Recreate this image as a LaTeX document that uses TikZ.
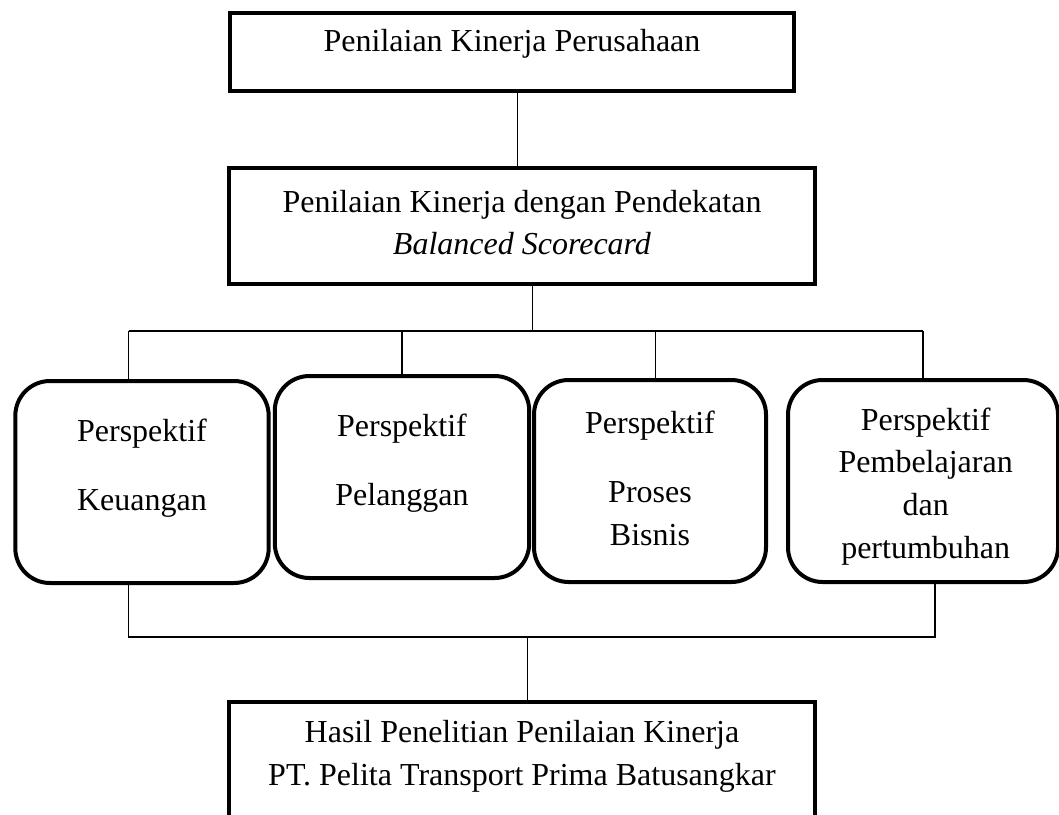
\documentclass[tikz,border=0pt]{standalone}
\usepackage{fontspec}
\setmainfont{Liberation Serif}
\usetikzlibrary{positioning}
\tikzset{
  kotak/.style={ draw, line width=1.5pt, fill=white }
}
\tikzset{
  persp/.style={ draw, line width=1.5pt, rounded corners=13pt, minimum height=75.75pt }
}
\tikzset{
  teks/.style={ align=center, font=\fontsize{12}{16}\selectfont }
}
\tikzset{
  garis/.style={ line width=0.6pt }
}

\begin{document}
\begin{tikzpicture}[x=0.375pt, y=-0.375pt]
      \clip (0, 0) rectangle (1059, 814);
      \node[kotak, minimum width=211.5pt, minimum height=29.25pt,
        label={[teks, yshift=3pt]center:Penilaian Kinerja Perusahaan}] (kinerja) at (512, 52) {};
      \node[kotak, minimum width=219.75pt, minimum height=43.5pt,
        label={[teks, yshift=1.3pt]center:{Penilaian Kinerja dengan Pendekatan\\\textit{Balanced Scorecard}}}] (bsc) at (522, 226) {};
      \node[persp, minimum width=95pt,
        label={[teks, yshift=5.25pt]center:{Perspektif\\[10pt]Keuangan}}] (keu) at (142, 482) {};
      \node[persp, minimum width=95.4pt,
        label={[teks, yshift=5.25pt]center:{Perspektif\\[10pt]Pelanggan}}] (pel) at (402, 477) {};
      \node[persp, minimum width=87pt,
        label={[teks, yshift=1pt]center:{Perspektif\\[10pt]Proses\\Bisnis}}] (pro) at (650, 481) {};
      \node[persp, minimum width=101.25pt,
        label={[teks, yshift=-2pt, xshift=1pt]center:{Perspektif\\Pembelajaran\\dan\\pertumbuhan}}] (pem) at (923, 481) {};
      \node[kotak, minimum width=219.4pt, minimum height=66.75pt,
        label={[teks, yshift=12.9pt]center:{Hasil Penelitian Penilaian Kinerja\\PT. Pelita Transport Prima Batusangkar}}] (hasil) at (522, 791) {};
      \coordinate (atas) at (534, 331);
      \coordinate (bawah) at (528, 637);
      % ke atas
      \draw[garis] ([xshift=2pt]kinerja.south) -- ([xshift=2pt]kinerja.south |- bsc.north);
      \draw[garis] ([xshift=4pt]bsc.south) -- ([xshift=4pt]bsc.south |- atas);
      \draw[garis] ([xshift=-5pt]keu.north |- atas) -- (pem.north |- atas);
      \draw[garis] ([xshift=-5pt]keu.north) -- ([xshift=-5pt]keu.north |- atas);
      \draw[garis] (pel.north) -- (pel.north |- atas);
      \draw[garis] ([xshift=2pt]pro.north) -- ([xshift=2pt]pro.north |- atas);
      \draw[garis] (pem.north) -- (pem.north |- atas);
      % ke bawah
      \draw[garis] ([xshift=-5pt]keu.south) -- ([xshift=-5pt]keu.south |- bawah)
        -- ([xshift=4.5pt]pem.south |- bawah) -- ([xshift=4.5pt]pem.south);
      \draw[garis] ([xshift=2pt]hasil.north) -- ([xshift=2pt]hasil.north |- bawah);
    \end{tikzpicture}
\end{document}
